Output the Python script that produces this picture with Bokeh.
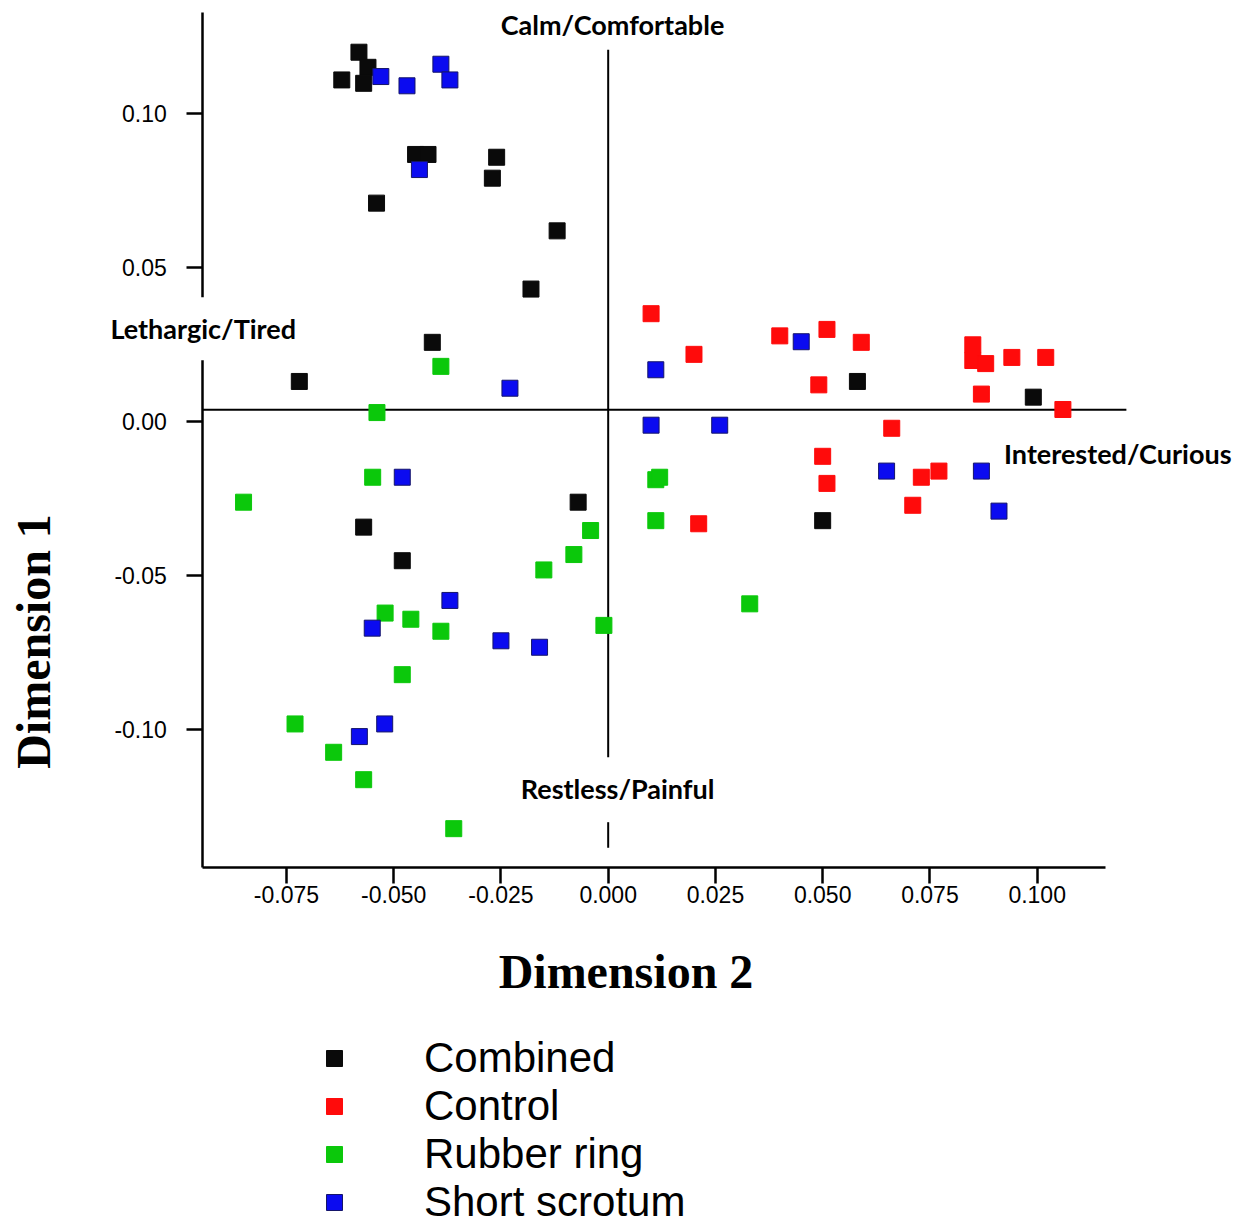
import math
from bokeh.plotting import figure
from bokeh.models import (Range1d, Label, Legend, LegendItem, FixedTicker,
                          PrintfTickFormatter)
from bokeh.embed import file_html
from bokeh.resources import INLINE

# ---------------- data ----------------
group_names = ["Combined", "Control", "Rubber ring", "Short scrotum"]
group_colors = ["#0a0a0a", "#ff0b0b", "#0bc80b", "#0b0bf0"]
group_edges = ["#0a0a0a", "#ff0b0b", "#0bc80b", "#15156a"]

combined_x = [-0.0581, -0.0560, -0.0621, -0.0570, -0.0449, -0.0420, -0.0260,
              -0.0270, -0.0540, -0.0119, -0.0180, -0.0410, -0.0720, 0.0581,
              0.0991, -0.0070, -0.0570, -0.0480, 0.0500]
combined_y = [0.1200, 0.1151, 0.1110, 0.1099, 0.0868, 0.0868, 0.0859,
              0.0791, 0.0710, 0.0620, 0.0431, 0.0258, 0.0131, 0.0131,
              0.0080, -0.0261, -0.0342, -0.0451, -0.0321]

control_x = [0.0100, 0.0200, 0.0400, 0.0510, 0.0590, 0.0850, 0.0850, 0.0880,
             0.0941, 0.1020, 0.0491, 0.0870, 0.1060, 0.0661, 0.0500, 0.0510,
             0.0730, 0.0771, 0.0710, 0.0211]
control_y = [0.0351, 0.0219, 0.0279, 0.0300, 0.0258, 0.0250, 0.0199, 0.0189,
             0.0209, 0.0209, 0.0120, 0.0090, 0.0040, -0.0021, -0.0112, -0.0200,
             -0.0180, -0.0160, -0.0271, -0.0331]

rubber_x = [-0.0390, -0.0539, -0.0549, -0.0850, -0.0520, -0.0460, -0.0390,
            -0.0480, -0.0730, -0.0640, -0.0570, -0.0360, 0.0111, 0.0120,
            0.0111, -0.0041, -0.0080, -0.0150, 0.0330, -0.0010]
rubber_y = [0.0180, 0.0030, -0.0180, -0.0261, -0.0621, -0.0641, -0.0680,
            -0.0821, -0.0981, -0.1073, -0.1162, -0.1321, -0.0188, -0.0180,
            -0.0321, -0.0353, -0.0431, -0.0481, -0.0591, -0.0661]

short_x = [-0.0530, -0.0469, -0.0390, -0.0369, -0.0440, -0.0229, 0.0450,
           0.0111, 0.0100, 0.0260, 0.0649, 0.0870, 0.0911, -0.0480, -0.0369,
           -0.0550, -0.0250, -0.0160, -0.0521, -0.0580]
short_y = [0.1121, 0.1091, 0.1161, 0.1110, 0.0819, 0.0109, 0.0260,
           0.0169, -0.0011, -0.0011, -0.0160, -0.0160, -0.0290, -0.0180,
           -0.0580, -0.0670, -0.0711, -0.0732, -0.0981, -0.1022]

x_ticks = [-0.075, -0.050, -0.025, 0.000, 0.025, 0.050, 0.075, 0.100]
y_ticks = [-0.10, -0.05, 0.00, 0.05, 0.10]

quadrant_labels = ["Calm/Comfortable", "Lethargic/Tired",
                   "Interested/Curious", "Restless/Painful"]
x_title = "Dimension 2"
y_title = "Dimension 1"

# axis extents (data units)
X_AXIS_BOUNDS = (-0.0945, 0.1159)
Y_AXIS_BOUNDS = (-0.1446, 0.1329)

# reference (cross) lines, data units
vline_x = 0.0
vline_segments_y = [(0.1208, -0.1089), (-0.1300, -0.1383)]
hline_y = 0.0039
hline_end_x = 0.1208

# visible window (whole canvas is the plot frame)
X_RANGE = (-0.14166, 0.14950)
Y_RANGE = (-0.26062, 0.13679)

# ---------------- figure ----------------
p = figure(width=1249, height=1224,
           x_range=Range1d(*X_RANGE), y_range=Range1d(*Y_RANGE),
           output_backend="svg", toolbar_location=None,
           min_border_left=0, min_border_top=0, min_border_right=0,
           min_border_bottom=0)
p.grid.visible = False
p.outline_line_color = None
p.background_fill_color = "white"
p.border_fill_color = "white"

for ax in (p.xaxis[0], p.yaxis[0]):
    ax.axis_line_width = 2.5
    ax.axis_line_color = "black"
    ax.major_tick_line_width = 2.5
    ax.major_tick_line_color = "black"
    ax.major_tick_out = 16
    ax.major_tick_in = 0
    ax.minor_tick_line_color = None
    ax.major_label_text_font = "Liberation Sans"
    ax.major_label_text_font_size = "23px"
    ax.major_label_text_color = "black"

p.xaxis.ticker = FixedTicker(ticks=x_ticks)
p.yaxis.ticker = FixedTicker(ticks=y_ticks)
p.xaxis.formatter = PrintfTickFormatter(format="%.3f")
p.yaxis.formatter = PrintfTickFormatter(format="%.2f")
p.xaxis.fixed_location = Y_AXIS_BOUNDS[0]
p.yaxis.fixed_location = X_AXIS_BOUNDS[0]
p.xaxis.bounds = X_AXIS_BOUNDS
p.yaxis.bounds = Y_AXIS_BOUNDS
p.xaxis.major_label_standoff = 3
p.yaxis.major_label_standoff = 20

# cross lines
p.segment(x0=[vline_x] * len(vline_segments_y),
          y0=[s[0] for s in vline_segments_y],
          x1=[vline_x] * len(vline_segments_y),
          y1=[s[1] for s in vline_segments_y],
          line_color="black", line_width=2)
p.segment(x0=[X_AXIS_BOUNDS[0]], y0=[hline_y], x1=[hline_end_x], y1=[hline_y],
          line_color="black", line_width=2)

series = [(combined_x, combined_y), (control_x, control_y),
          (rubber_x, rubber_y), (short_x, short_y)]
items = []
for name, (xs, ys), fc, lc in zip(group_names, series, group_colors, group_edges):
    r = p.scatter(xs, ys, marker="square", size=16, fill_color=fc,
                  line_color=lc, line_width=1)
    items.append(LegendItem(label=name, renderers=[r]))

legend = Legend(items=items, location=(314, -2),
                glyph_width=40, glyph_height=40, label_standoff=70,
                label_text_font="Liberation Sans", label_text_font_size="42px",
                label_text_color="black",
                label_height=48, spacing=0, padding=10, margin=0,
                border_line_color=None, background_fill_alpha=0)
p.add_layout(legend)

# axis titles
title_style = dict(text_font="Liberation Serif", text_font_style="bold",
                   text_font_size="48px", text_color="black",
                   text_align="center", text_baseline="middle")
p.add_layout(Label(x=0.00415, y=-0.17847, text=x_title, **title_style))
p.add_layout(Label(x=-0.13386, y=-0.07133, text=y_title, angle=math.pi / 2,
                   **title_style))

label_style = dict(text_font="Lato", text_font_style="bold",
                   text_font_size="27px", text_color="black",
                   text_align="center", text_baseline="middle")
p.add_layout(Label(x=0.0010, y=0.1290, text=quadrant_labels[0], **label_style))
p.add_layout(Label(x=-0.0944, y=0.0302, text=quadrant_labels[1],
                   background_fill_color="white", padding=15, **label_style))
p.add_layout(Label(x=0.1188, y=-0.0103, text=quadrant_labels[2], **label_style))
p.add_layout(Label(x=0.0022, y=-0.1191, text=quadrant_labels[3], **label_style))

open("out.html", "w").write(file_html(p, INLINE))
